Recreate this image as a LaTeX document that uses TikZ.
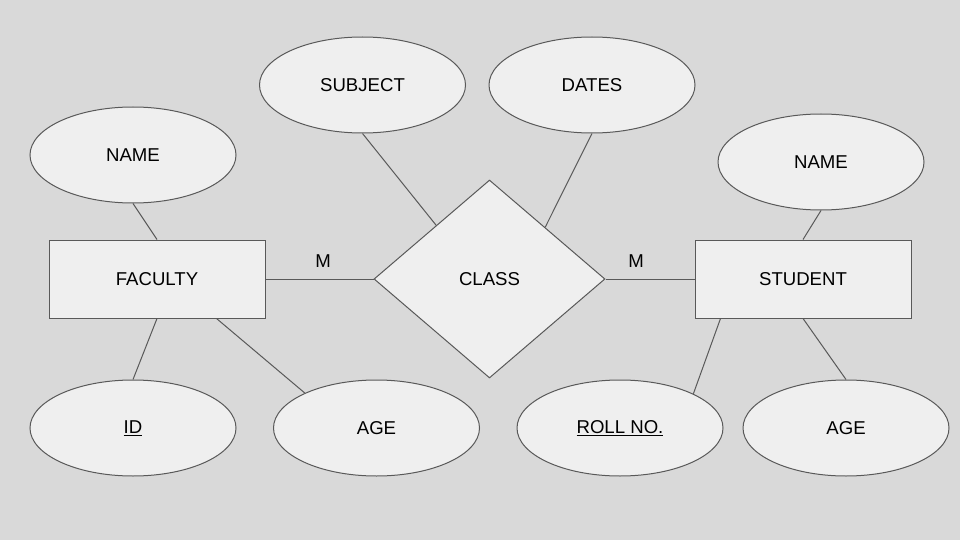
\documentclass[tikz,border=0pt]{standalone}
\usepackage{fontspec}
\setmainfont{Liberation Sans}
\usetikzlibrary{shapes.geometric,calc}
\definecolor{bg}{HTML}{D9D9D9}
\definecolor{shapefill}{HTML}{EFEFEF}
\definecolor{edge}{HTML}{595959}
\tikzset{
  x=1pt,y=-1pt,
  every node/.style={font=\fontsize{18.6}{20}\selectfont, text=black},
  entity/.style={draw=edge, fill=shapefill, line width=1pt, minimum width=216pt, minimum height=78pt, inner sep=0pt},
  attr/.style={ellipse, draw=edge, fill=shapefill, line width=1pt, minimum width=206pt, minimum height=96pt, inner sep=0pt},
  rel/.style={diamond, draw=edge, fill=shapefill, line width=1pt, minimum width=231pt, minimum height=198pt, inner sep=0pt},
  link/.style={draw=edge, line width=1pt},
  mult/.style={inner sep=0pt}
}
\begin{document}
\begin{tikzpicture}
\fill[bg] (0,0) rectangle (960,540);
\useasboundingbox (0,0) rectangle (960,540);
\node[entity] (faculty) at (157,279) {FACULTY};
\node[entity] (student) at (803,279) {STUDENT};
\node[rel] (class) at (489.5,279) {CLASS};
\node[attr] (subject) at (362.5,85) {SUBJECT};
\node[attr] (dates) at (592,85) {DATES};
\node[attr] (name1) at (133,155) {NAME};
\node[attr] (name2) at (821,162) {NAME};
\node[attr] (id) at (133,428) {\underline{ID}};
\node[attr] (age1) at (376.5,428) {AGE};
\node[attr] (roll) at (620,428) {\underline{ROLL NO.}};
\node[attr] (age2) at (846,428) {AGE};
\node[mult] (m1) at (323,261) {M};
\node[mult] (m2) at (636,261) {M};
\draw[link] (faculty.east) -- (class.west);
\draw[link] (class.east) -- (student.west);
\draw[link] (subject.south) -- ($(class.west)!0.54!(class.north)$);
\draw[link] (dates.south) -- ($(class.north)!0.48!(class.east)$);
\draw[link] (name1.south) -- (faculty.north);
\draw[link] (faculty.south) -- (id.north);
\draw[link] ($(faculty.south west)+(168,0)$) -- (age1.154);
\draw[link] (name2.south) -- (student.north);
\draw[link] ($(student.south west)+(26,0)$) -- (roll.25);
\draw[link] (student.south) -- (age2.north);
\end{tikzpicture}
\end{document}
